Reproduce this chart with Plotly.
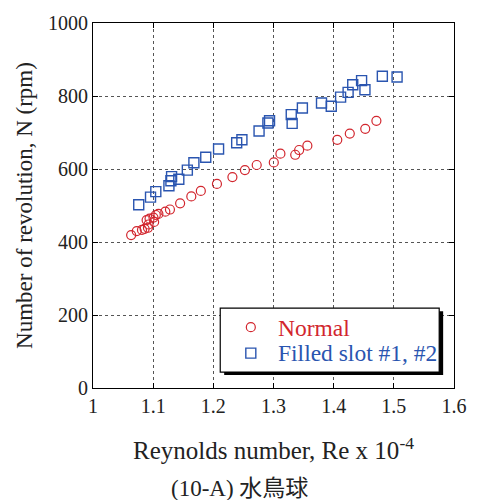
import plotly.graph_objects as go

# Reynolds number (x 10^-4) and rotation speed (rpm) for each configuration
normal_re = [1.0634, 1.0727, 1.0814, 1.0858, 1.0913, 1.0923, 1.0891, 1.0940, 1.1016,
             1.1005, 1.1044, 1.1087, 1.1202, 1.1279, 1.1448, 1.1634, 1.1792, 1.2060,
             1.2317, 1.2525, 1.2721, 1.3005, 1.3115, 1.3361, 1.3426, 1.3563, 1.4060,
             1.4268, 1.4525, 1.4710]
normal_n = [419, 430, 433, 436, 439, 448, 460, 464, 455,
            467, 474, 477, 483, 489, 506, 525, 540, 559,
            578, 597, 611, 618, 642, 639, 652, 664, 680,
            697, 710, 732]

filled_re = [1.0760, 1.0956, 1.1044, 1.1262, 1.1295, 1.1306, 1.1426, 1.1568, 1.1677,
             1.1874, 1.2087, 1.2388, 1.2475, 1.2760, 1.2907, 1.2934, 1.3295, 1.3310,
             1.3480, 1.3798, 1.3960, 1.4115, 1.4240, 1.4317, 1.4464, 1.4520, 1.4809,
             1.5054]
filled_n = [502, 523, 538, 554, 568, 579, 572, 597, 617,
            632, 655, 672, 680, 704, 726, 732, 749, 725,
            767, 781, 772, 797, 810, 831, 842, 817, 854,
            852]

x_ticks = [1, 1.1, 1.2, 1.3, 1.4, 1.5, 1.6]
x_tick_labels = ["1", "1.1", "1.2", "1.3", "1.4", "1.5", "1.6"]
y_ticks = [0, 200, 400, 600, 800, 1000]

series_names = ["Normal", "Filled slot #1, #2"]

RED = "#d2262e"
BLUE = "#2a55b0"
INK = "#222222"
SERIF = "Liberation Serif, Times New Roman, serif"

# plot area in pixels: left 93, right 459, top 22, bottom 388
PL, PR, PT, PB = 93, 459, 22, 388


def px(x):
    return (x - PL) / (PR - PL)


def py(y):
    return (PB - y) / (PB - PT)


fig = go.Figure()
fig.add_trace(go.Scatter(
    x=normal_re, y=normal_n, mode="markers", name=series_names[0], showlegend=False,
    marker=dict(symbol="circle-open", size=9, color=RED, line=dict(width=1.2)),
))
fig.add_trace(go.Scatter(
    x=filled_re, y=filled_n, mode="markers", name=series_names[1], showlegend=False,
    marker=dict(symbol="square-open", size=10, color=BLUE, line=dict(width=1.4)),
))

axis_common = dict(
    showline=True, linecolor="black", linewidth=1.2, mirror="ticks",
    ticks="inside", ticklen=5, tickcolor="black",
    showgrid=True, gridcolor="#555555", griddash="dot", gridwidth=1,
    zeroline=False,
    tickfont=dict(family=SERIF, size=20, color=INK),
)

fig.update_xaxes(
    range=[1, 1.6], tickvals=x_ticks, ticktext=x_tick_labels,
    title=dict(text="Reynolds number, Re x 10<sup>-4</sup>",
               font=dict(family=SERIF, size=25, color=INK), standoff=25),
    **axis_common,
)
fig.update_yaxes(
    range=[0, 1000], tickvals=y_ticks,
    title=dict(text="Number of revolution, N (rpm)",
               font=dict(family=SERIF, size=23, color=INK), standoff=8),
    **axis_common,
)

# legend box with a drop shadow, drawn over the grid
shapes = [
    dict(type="rect", xref="paper", yref="paper",
         x0=px(226), x1=px(448), y0=py(375), y1=py(311),
         fillcolor="black", line=dict(width=0), layer="above"),
    dict(type="rect", xref="paper", yref="paper",
         x0=px(222), x1=px(444), y0=py(372), y1=py(308),
         fillcolor="white", line=dict(color="black", width=1.2), layer="above"),
    # legend keys
    dict(type="circle", xref="paper", yref="paper",
         xsizemode="pixel", ysizemode="pixel",
         xanchor=px(253), yanchor=py(327), x0=-4.5, x1=4.5, y0=-4.5, y1=4.5,
         line=dict(color=RED, width=1.2), fillcolor="rgba(0,0,0,0)", layer="above"),
    dict(type="rect", xref="paper", yref="paper",
         xsizemode="pixel", ysizemode="pixel",
         xanchor=px(253), yanchor=py(353), x0=-5, x1=5, y0=-5, y1=5,
         line=dict(color=BLUE, width=1.4), fillcolor="rgba(0,0,0,0)", layer="above"),
]
for s in shapes:
    fig.add_shape(**s)

for label, color, yc in [(series_names[0], RED, 328), (series_names[1], BLUE, 353)]:
    fig.add_annotation(
        text=label, xref="paper", yref="paper", x=px(279), y=py(yc),
        xanchor="left", yanchor="middle", showarrow=False,
        font=dict(family=SERIF, size=23.5, color=color),
    )

fig.add_annotation(
    text="(10-A) 水鳥球", xref="paper", yref="paper",
    x=px(242), y=py(489), xanchor="center", yanchor="middle", showarrow=False,
    font=dict(family="Liberation Serif, Noto Sans CJK JP", size=23, color=INK),
)

fig.update_layout(
    width=479, height=500,
    margin=dict(l=PL, r=479 - PR, t=PT, b=500 - PB),
    paper_bgcolor="white", plot_bgcolor="white",
    showlegend=False,
)

fig.write_html("out.html")
